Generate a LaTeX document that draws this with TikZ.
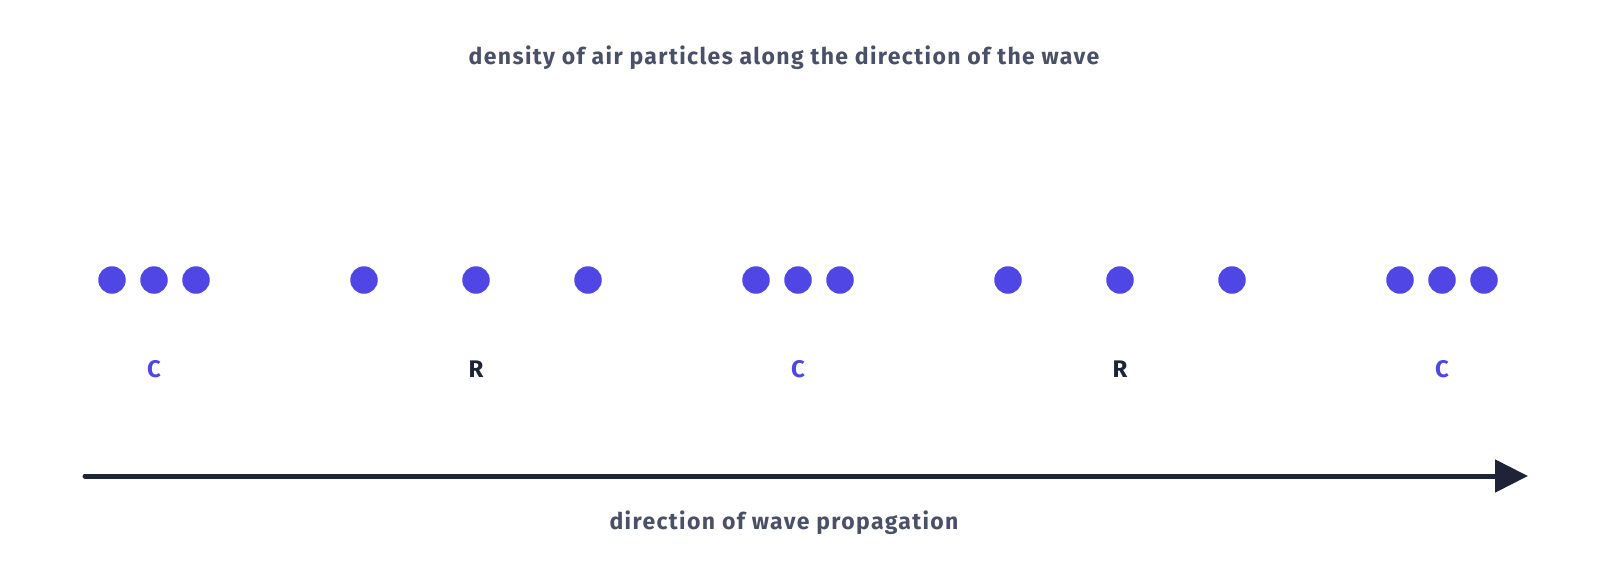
\documentclass[tikz,border=0pt]{standalone}
\usepackage{fontspec}
\setmainfont{Fira Sans}
\newfontfamily\labfont[LetterSpace=6]{Fira Sans}
\usetikzlibrary{arrows.meta}
\definecolor{dotc}{HTML}{4F46E5}
\definecolor{navy}{HTML}{1E2337}
\definecolor{txt}{HTML}{4A5068}
\begin{document}
\begin{tikzpicture}[x=1pt,y=-1pt,
  dot/.style={circle,fill=dotc,minimum size=27.5pt,inner sep=0pt},
  lab/.style={font=\labfont\fontsize{23}{26}\selectfont\bfseries,text=txt},
  clab/.style={font=\labfont\fontsize{24}{26}\selectfont\bfseries,text=dotc},
  rlab/.style={font=\labfont\fontsize{24}{26}\selectfont\bfseries,text=navy},
  arr/.style={draw=navy,line width=5pt,line cap=round,-{Triangle[length=33pt,width=32pt]}}]
\useasboundingbox (0,0) rectangle (1600,571);
\node[lab] (title) at (784,58) {density of air particles along the direction of the wave};
\foreach \n/\x in {a1/112,a2/154,a3/196,b1/364,b2/476,b3/588,c1/756,c2/798,c3/840,d1/1008,d2/1120,d3/1232,e1/1400,e2/1442,e3/1484}
  \node[dot] (\n) at (\x,280) {};
\node[clab] (l1) at (154,369) {C};
\node[rlab] (l2) at (476,369) {R};
\node[clab] (l3) at (798,369) {C};
\node[rlab] (l4) at (1120,369) {R};
\node[clab] (l5) at (1442,369) {C};
\coordinate (s) at (85,476);
\coordinate (t) at (1528,476);
\draw[arr] (s) -- (t);
\node[lab] (prop) at (784,523) {direction of wave propagation};
\end{tikzpicture}
\end{document}
